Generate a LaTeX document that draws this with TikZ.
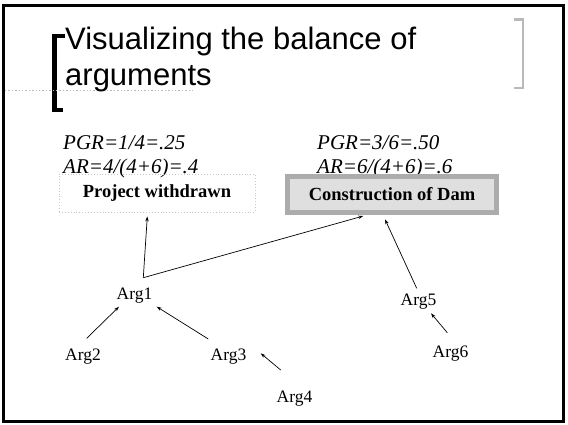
\documentclass[tikz,border=0pt]{standalone}
\usepackage{fontspec}
\setmainfont{Liberation Serif}
\newfontfamily\titlefont{Liberation Sans}
\usetikzlibrary{arrows.meta}

\begin{document}
\begin{tikzpicture}[x=1pt,y=-1pt,
  argnode/.style={font=\fontsize{17.5}{20}\selectfont, inner sep=0pt, anchor=base},
  ratio/.style={font=\fontsize{21}{24}\selectfont\itshape, inner sep=0pt, anchor=base west},
  headline/.style={font=\titlefont\fontsize{31}{36}\selectfont, inner sep=0pt, anchor=base west},
  outcome/.style={font=\fontsize{18.5}{20}\selectfont\bfseries, inner sep=0pt},
  link/.style={line width=0.7pt, -{Stealth[length=5pt,width=3.4pt]}}]

\useasboundingbox (0,0) rectangle (568,424);
\fill[white] (0,0) rectangle (568,424);

% slide frame
\draw[line width=3pt] (3,5) rectangle (563,421);

% title brackets and rule
\draw[line width=4.5pt, line join=miter, line cap=butt] (65,36) -- (54.5,36) -- (54.5,110) -- (62.5,110);
\draw[gray!55, line width=2.5pt, line join=miter] (514,19.5) -- (523,19.5) -- (523,88) -- (514,88);
\draw[gray!55, line width=1.4pt, dotted] (5,90.7) -- (195,90.7);

% title
\node[headline] (t1) at (65,49.3) {Visualizing the balance of};
\node[headline] (t2) at (65,85) {arguments};

% ratios
\node[ratio] (p1) at (63,149.5) {PGR=1/4=.25};
\node[ratio] (r1) at (63,173.5) {AR=4/(4+6)=.4};
\node[ratio] (p2) at (317,149.5) {PGR=3/6=.50};
\node[ratio] (r2) at (317,173.5) {AR=6/(4+6)=.6};

% outcomes
\node[outcome, draw=gray!45, dotted, line width=0.9pt, minimum width=196pt, minimum height=38pt] (pw) at (157,193) {Project withdrawn};
\node[outcome, draw=gray!65, line width=5pt, fill=gray!25, minimum width=209pt, minimum height=36pt] (cd) at (392,194.5) {Construction of Dam};

% arguments
\node[argnode] (a1) at (134.5,299.3) {Arg1};
\node[argnode] (a2) at (83,360.7) {Arg2};
\node[argnode] (a3) at (228.5,360.7) {Arg3};
\node[argnode] (a4) at (294.5,402.7) {Arg4};
\node[argnode] (a5) at (418.5,305) {Arg5};
\node[argnode] (a6) at (450.5,357) {Arg6};

\coordinate (j1) at ([shift={(8.8,-21.6)}]a1.base);

% support links
\draw[link] ([shift={(3.7,-22.4)}]a2.base) -- ([shift={(-15.5,7.4)}]a1.base);
\draw[link] ([shift={(-20.2,-21.7)}]a3.base) -- ([shift={(22.2,7.4)}]a1.base);
\draw[link] ([shift={(-13.8,-32.7)}]a4.base) -- ([shift={(32.2,-7.4)}]a3.base);
\draw[link] ([shift={(-3.2,-24.3)}]a6.base) -- ([shift={(12.5,8.3)}]a5.base);
\draw[link] ([shift={(-1.8,-16.7)}]a5.base) -- ([shift={(-7,4.3)}]cd.south);
\draw[link] (j1) -- ([shift={(-9.7,4)}]pw.south);
\draw[link] (j1) -- ([shift={(-28.7,1)}]cd.south);

\end{tikzpicture}
\end{document}
